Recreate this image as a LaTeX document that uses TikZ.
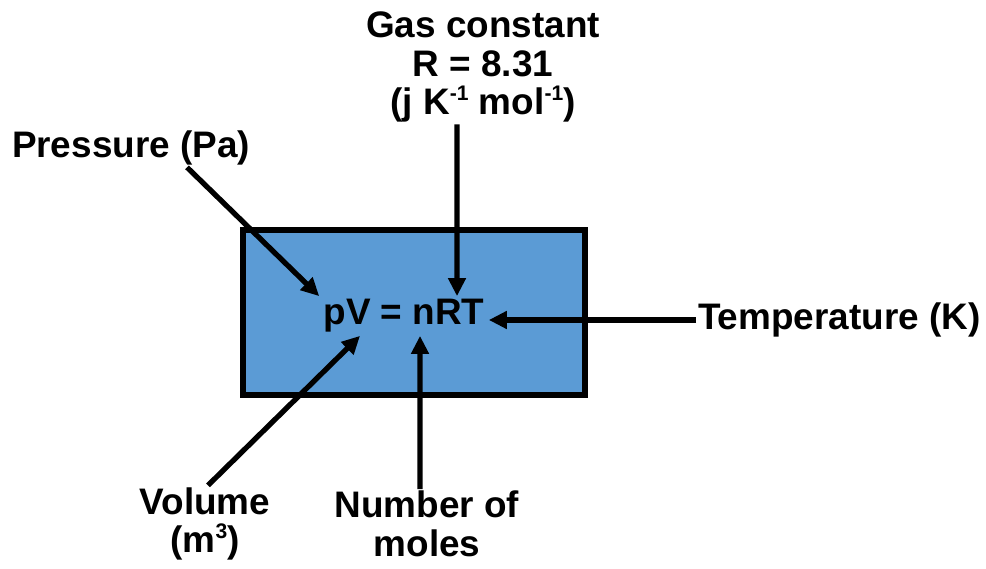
\documentclass[tikz,border=0pt]{standalone}
\usepackage{fontspec}
\setmainfont{Liberation Sans}
\usetikzlibrary{arrows.meta}
\definecolor{boxblue}{HTML}{5B9BD5}
\newcommand{\smallsup}[1]{\raisebox{0.75ex}{\fontsize{12}{12}\selectfont #1}}

\begin{document}
\begin{tikzpicture}[
    lbl/.style={font=\bfseries\fontsize{21}{22}\selectfont, align=center, inner sep=1pt},
    arr/.style={line width=3pt, -{Triangle[length=0.36cm, width=0.34cm]}}
  ]

  % Fix the page size
  \useasboundingbox (0,0) rectangle (19.72,11.38);

  % Draw the blue box
  \draw[line width=3.2pt, fill=boxblue] (4.856,3.476) rectangle (11.704,6.784);

  % The equation in the middle of the box
  \node[lbl, inner xsep=0.08cm, inner ysep=0.06cm] (eq) at (8.08,5.06) {pV = nRT};

  % Labels around the box
  \node[lbl] (pres) at (2.62,8.42) {Pressure (Pa)};
  \node[lbl] (gas) at (9.66,10.04) {Gas constant\\R = 8.31\\(j K\smallsup{-1} mol\smallsup{-1})};
  \node[lbl, anchor=west] (temp) at (13.92,4.98) {Temperature (K)};
  \node[lbl] (vol) at (4.1,0.9) {Volume\\(m\smallsup{3})};
  \node[lbl] (mol) at (8.54,0.9) {Number of\\moles};

  % Arrows pointing at the equation
  \draw[arr] ([xshift=1.12cm]pres.south) -- (eq.north west);
  \draw[arr] ([xshift=-0.52cm]gas.south) -- ([xshift=1.06cm]eq.north);
  \draw[arr] (temp.west) -- (eq.east |- temp.west);
  \draw[arr] ([xshift=0.06cm]vol.north) -- ([xshift=-0.88cm]eq.south);
  \draw[arr] ([xshift=-0.14cm]mol.north) -- ([xshift=0.32cm]eq.south);

\end{tikzpicture}
\end{document}
